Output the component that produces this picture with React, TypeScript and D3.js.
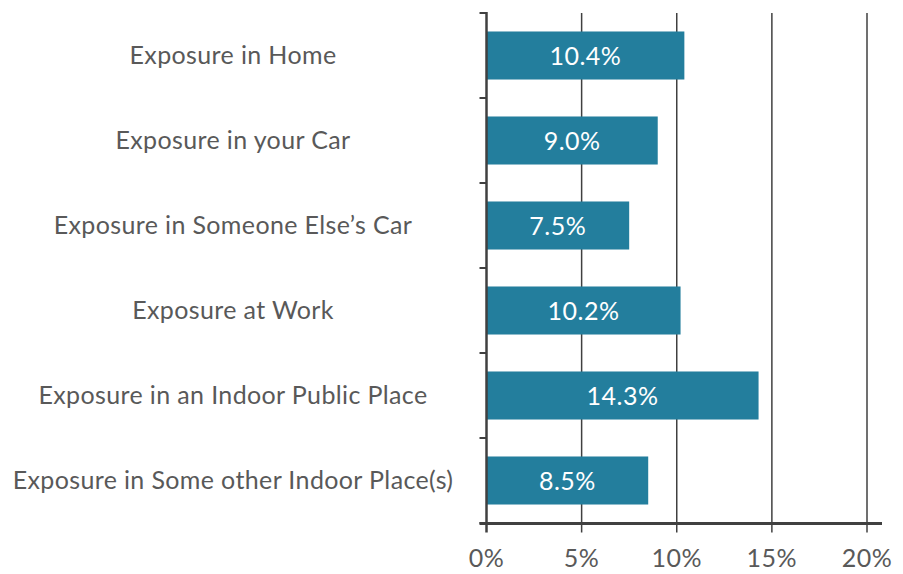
import React from "react";
import * as d3 from "d3";

const categories = [
  "Exposure in Home",
  "Exposure in your Car",
  "Exposure in Someone Else\u2019s Car",
  "Exposure at Work",
  "Exposure in an Indoor Public Place",
  "Exposure in Some other Indoor Place(s)",
];
const values = [10.4, 9.0, 7.5, 10.2, 14.3, 8.5];
const xTicks = [0, 5, 10, 15, 20];

const W = 903;
const H = 574;
const FONT = "Lato, 'Open Sans', sans-serif";
const TEXT = "#595959";
const AXIS = "#404040";
const BAR = "#237E9D";

export default function App() {
  const x = d3.scaleLinear().domain([0, 20]).range([486.5, 867]);
  const y = d3
    .scaleBand<string>()
    .domain(categories)
    .range([13, 523])
    .paddingInner(0.435)
    .paddingOuter(0.2175);
  const step = y.step();
  const boundaries = d3.range(categories.length + 1).map((i) => 13 + i * step);
  const axisY = 523.5;

  return (
    <svg
      width={W}
      height={H}
      style={{ position: "absolute", left: 0, top: 0, background: "#fff" }}
    >
      {/* gridlines */}
      {xTicks.slice(1).map((t) => (
        <line
          key={"g" + t}
          x1={x(t)}
          x2={x(t)}
          y1={13}
          y2={axisY + 9}
          stroke={AXIS}
          strokeWidth={1.5}
        />
      ))}
      {/* bars */}
      {categories.map((c, i) => (
        <g key={c}>
          <rect
            x={x(0)}
            y={y(c)}
            width={x(values[i]) - x(0)}
            height={y.bandwidth()}
            fill={BAR}
          />
          <text
            x={(x(0) + x(values[i])) / 2}
            y={(y(c) as number) + y.bandwidth() / 2}
            dy="0.36em"
            textAnchor="middle"
            fill="#fff"
            fontFamily={FONT}
            fontSize={25}
            letterSpacing={0.5}
          >
            {values[i].toFixed(1)}%
          </text>
          <text
            x={233}
            y={(y(c) as number) + y.bandwidth() / 2}
            dy="0.33em"
            textAnchor="middle"
            fill={TEXT}
            fontFamily={FONT}
            fontSize={25}
            letterSpacing={0.37}
          >
            {c}
          </text>
        </g>
      ))}
      {/* y axis */}
      <line x1={x(0)} x2={x(0)} y1={12} y2={axisY + 9} stroke={AXIS} strokeWidth={2.5} />
      {boundaries.map((b, i) => (
        <line key={"yt" + i} x1={x(0) - 7} x2={x(0)} y1={b} y2={b} stroke={AXIS} strokeWidth={2} />
      ))}
      {/* x axis */}
      <line x1={x(0) - 7} x2={x(20) + 15} y1={axisY} y2={axisY} stroke={AXIS} strokeWidth={3} />
      {xTicks.map((t) => (
        <text
          key={"xt" + t}
          x={x(t)}
          y={567}
          textAnchor="middle"
          fill={TEXT}
          fontFamily={FONT}
          fontSize={25}
          letterSpacing={0.5}
        >
          {t}%
        </text>
      ))}
    </svg>
  );
}
